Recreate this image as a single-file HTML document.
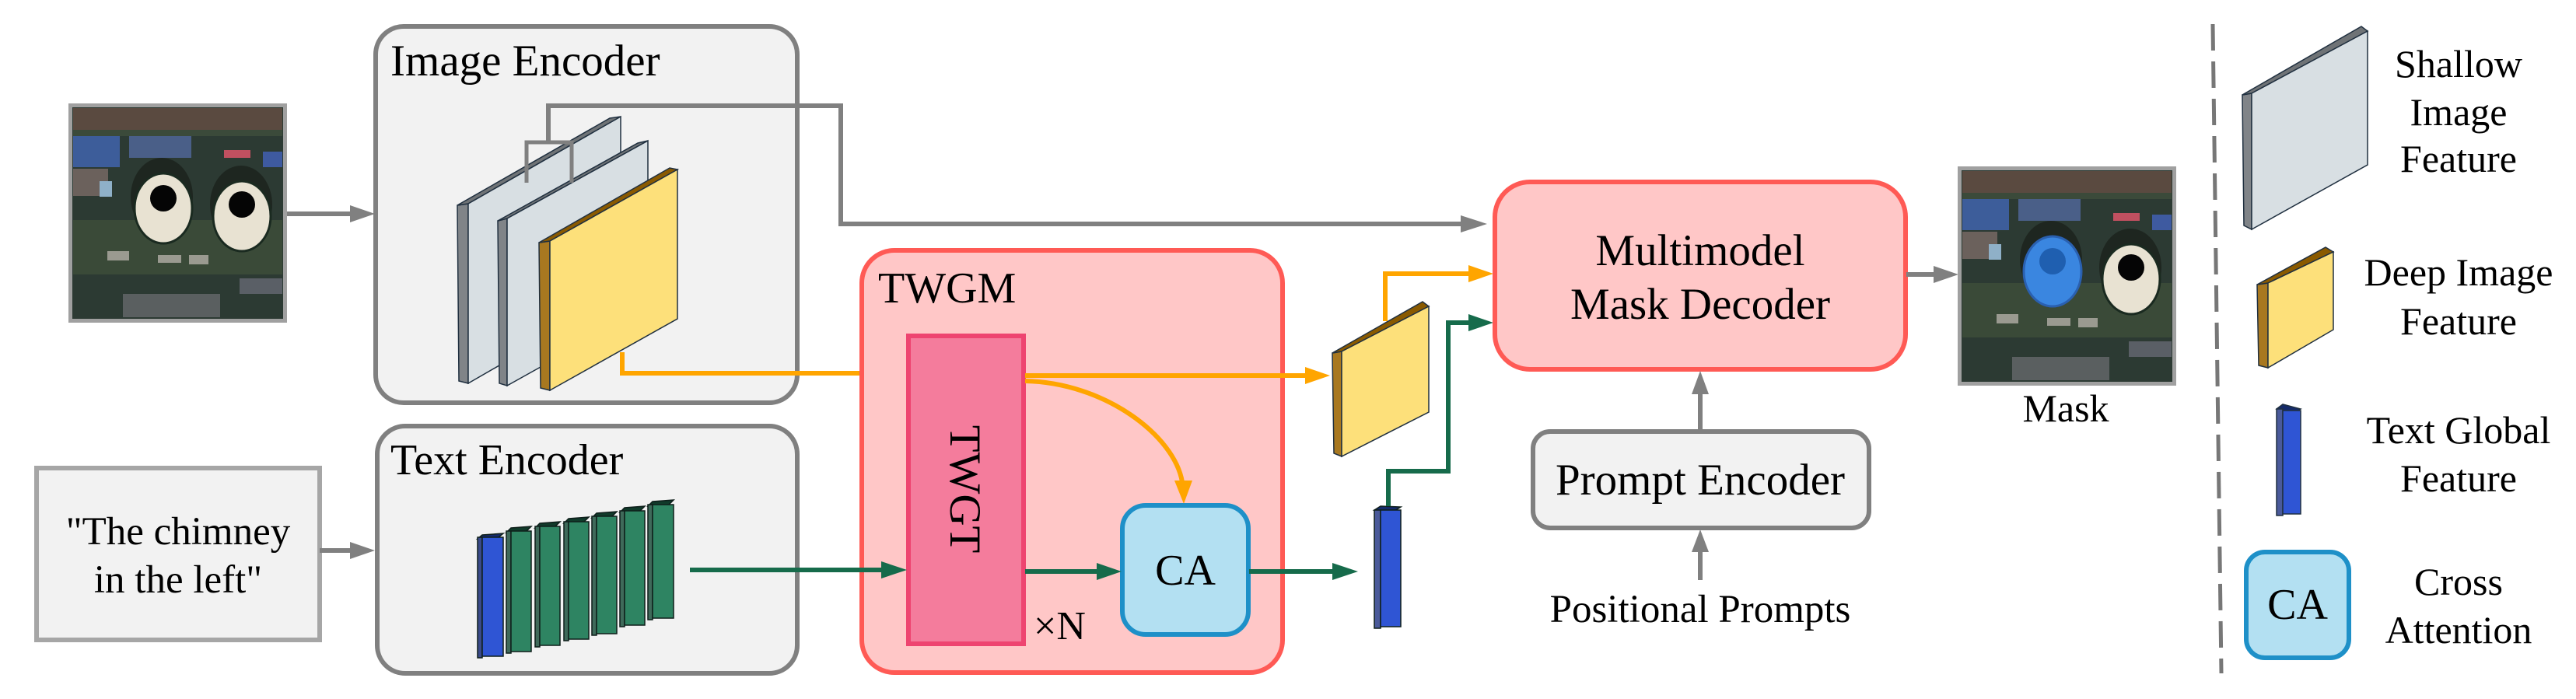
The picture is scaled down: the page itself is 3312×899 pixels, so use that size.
<!DOCTYPE html>
<html><head><meta charset="utf-8"><style>
html,body{margin:0;padding:0;background:#fff}
svg{display:block;font-family:"Liberation Serif","DejaVu Serif",serif}
svg text{font-family:"Liberation Serif","DejaVu Serif",serif;fill:#000}
</style></head><body>
<svg width="3312" height="899" viewBox="0 0 3312 899" xmlns="http://www.w3.org/2000/svg" font-family="Liberation Serif, DejaVu Serif, serif">
<defs>
<g id="sat">
  <rect x="0" y="0" width="281" height="282" fill="#2c3a33"/>
  <rect x="6" y="6" width="269" height="28" fill="#5a4a40"/>
  <rect x="6" y="34" width="269" height="8" fill="#3b4a3a"/>
  <rect x="6" y="42" width="60" height="40" fill="#3d5d9a"/>
  <rect x="78" y="42" width="80" height="28" fill="#4a5f88"/>
  <rect x="200" y="60" width="34" height="10" fill="#c05060"/>
  <rect x="250" y="62" width="25" height="20" fill="#3e5aa0"/>
  <rect x="6" y="84" width="45" height="35" fill="#6b615c"/>
  <rect x="40" y="100" width="16" height="20" fill="#8fb0c8"/>
  <ellipse cx="120" cy="120" rx="40" ry="50" fill="#1e2620"/>
  <ellipse cx="222" cy="130" rx="40" ry="50" fill="#1e2620"/>
  <rect x="6" y="150" width="269" height="70" fill="#3a4a38"/>
  <rect x="50" y="190" width="28" height="12" fill="#9a9a90"/>
  <rect x="115" y="195" width="30" height="10" fill="#9a9a90"/>
  <rect x="155" y="195" width="25" height="12" fill="#9a9a90"/>
  <rect x="70" y="245" width="125" height="30" fill="#5a5f60"/>
  <rect x="220" y="225" width="55" height="20" fill="#5a5f66"/>
</g>
</defs>

<!-- input image -->
<rect x="88" y="133" width="281" height="282" fill="#a0a0a0"/>
<g transform="translate(88,133)">
  <use href="#sat"/>
  <ellipse cx="122" cy="135" rx="37" ry="45" fill="#e8e2d2" stroke="#1a2a20" stroke-width="3"/>
  <ellipse cx="122" cy="122" rx="17" ry="17" fill="#050505"/>
  <ellipse cx="223" cy="145" rx="37" ry="45" fill="#e8e2d2" stroke="#1a2a20" stroke-width="3"/>
  <ellipse cx="223" cy="130" rx="17" ry="17" fill="#050505"/>
</g>
<rect x="90.5" y="135.5" width="276" height="277" fill="none" stroke="#a0a0a0" stroke-width="5"/>

<line x1="369" y1="275" x2="450" y2="275" stroke="#808080" stroke-width="6"/>
<polygon points="450,264 482,275 450,286" fill="#808080"/>

<!-- Image Encoder box -->
<rect x="483" y="34" width="542" height="484" rx="36" fill="#f2f2f2" stroke="#808080" stroke-width="6"/>
<text x="502" y="97" font-size="57" font-family="Liberation Serif, DejaVu Serif, serif">Image Encoder</text>

<g stroke="#203040" stroke-width="1.5">
  <polygon points="588,264 602,262 602,493 590,490" fill="#808488"/>
  <polygon points="588,264 784,152 798,150 602,262" fill="#6f7376"/>
  <polygon points="602,262 798,150 798,380 602,493" fill="#d8dfe3"/>
  <polygon points="640,284 652,281 652,496 642,493" fill="#808488"/>
  <polygon points="640,284 820,184 833,181 652,281" fill="#6f7376"/>
  <polygon points="652,281 833,181 833,395 652,496" fill="#d8dfe3"/>
  <polygon points="693,312 707,310 707,502 695,499" fill="#a87820"/>
  <polygon points="693,312 861,216 871,218 707,310" fill="#8a5a00"/>
  <polygon points="707,310 871,218 871,410 707,502" fill="#fde07a"/>
</g>
<polyline points="677,235 677,183 735,183 735,235" fill="none" stroke="#808080" stroke-width="5"/>
<polyline points="705,183 705,136 1081,136 1081,288 1880,288" fill="none" stroke="#808080" stroke-width="6"/>
<polygon points="1878,277 1912,288 1878,299" fill="#808080"/>

<polyline points="800,453 800,480 1135,480" fill="none" stroke="#ffa500" stroke-width="6"/>
<polygon points="1133,469 1165,480 1133,491" fill="#ffa500"/>

<!-- Text input box -->
<rect x="47" y="602" width="364" height="221" fill="#f2f2f2" stroke="#a6a6a6" stroke-width="6"/>
<text x="229" y="700" font-size="51" text-anchor="middle" font-family="Liberation Serif, DejaVu Serif, serif">"The chimney</text>
<text x="229" y="762" font-size="51" text-anchor="middle" font-family="Liberation Serif, DejaVu Serif, serif">in the left"</text>
<line x1="411" y1="708" x2="450" y2="708" stroke="#808080" stroke-width="6"/>
<polygon points="450,697 482,708 450,719" fill="#808080"/>

<!-- Text Encoder box -->
<rect x="485" y="548" width="540" height="318" rx="36" fill="#f2f2f2" stroke="#808080" stroke-width="6"/>
<text x="502" y="610" font-size="56" font-family="Liberation Serif, DejaVu Serif, serif">Text Encoder</text>

<g stroke="#0e1e1a" stroke-width="1.5">
  <polygon points="614,693 620,688 647,686 641,691" fill="#142a6a"/>
  <rect x="614" y="691" width="6" height="155" fill="#3a4a8a"/>
  <rect x="620" y="691" width="27" height="153" fill="#2f55d4"/>
</g>
<g stroke="#0e1e1a" stroke-width="1.5" fill="#2e8462">
  <polygon points="651,685 657,679 683,677 677,683" fill="#103a2a"/><rect x="651" y="683" width="6" height="157" fill="#3f6a5a"/><rect x="657" y="683" width="26" height="155"/>
  <polygon points="688,679 694,673 720,671 714,677" fill="#103a2a"/><rect x="688" y="677" width="6" height="155" fill="#3f6a5a"/><rect x="694" y="677" width="26" height="153"/>
  <polygon points="725,673 731,667 757,665 751,671" fill="#103a2a"/><rect x="725" y="671" width="6" height="153" fill="#3f6a5a"/><rect x="731" y="671" width="26" height="151"/>
  <polygon points="761,666 767,660 793,658 787,664" fill="#103a2a"/><rect x="761" y="664" width="6" height="153" fill="#3f6a5a"/><rect x="767" y="664" width="26" height="151"/>
  <polygon points="797,659 803,653 829,651 823,657" fill="#103a2a"/><rect x="797" y="657" width="6" height="149" fill="#3f6a5a"/><rect x="803" y="657" width="26" height="147"/>
  <polygon points="833,651 839,645 866,643 860,649" fill="#103a2a"/><rect x="833" y="649" width="6" height="148" fill="#3f6a5a"/><rect x="839" y="649" width="27" height="146"/>
</g>

<!-- TWGM box -->
<rect x="1108" y="322" width="541" height="543" rx="42" fill="#ffc7c7" stroke="#ff5a55" stroke-width="6"/>
<text x="1129" y="389" font-size="56" font-family="Liberation Serif, DejaVu Serif, serif">TWGM</text>
<rect x="1168" y="432" width="148" height="396" fill="#f47c9c" stroke="#ee4470" stroke-width="6"/>
<text x="0" y="0" font-size="57" text-anchor="middle" transform="translate(1222,629) rotate(90)" font-family="Liberation Serif, DejaVu Serif, serif">TWGT</text>
<text x="1329" y="822" font-size="52" font-family="Liberation Serif, DejaVu Serif, serif">×N</text>

<line x1="887" y1="733" x2="1135" y2="733" stroke="#166b4b" stroke-width="6"/>
<polygon points="1133,722 1166,733 1133,744" fill="#166b4b"/>

<line x1="1318" y1="483" x2="1680" y2="483" stroke="#ffa500" stroke-width="6"/>
<polygon points="1678,472 1710,483 1678,494" fill="#ffa500"/>
<path d="M1318,490 C1420,492 1510,560 1520,620" fill="none" stroke="#ffa500" stroke-width="6"/>
<polygon points="1510,618 1522,648 1533,618" fill="#ffa500"/>

<!-- CA -->
<rect x="1443" y="650" width="162" height="166" rx="30" fill="#b3e0f2" stroke="#1e90c8" stroke-width="6"/>
<text x="1524" y="752" font-size="56" text-anchor="middle" font-family="Liberation Serif, DejaVu Serif, serif">CA</text>
<line x1="1318" y1="735" x2="1412" y2="735" stroke="#166b4b" stroke-width="6"/>
<polygon points="1410,724 1442,735 1410,746" fill="#166b4b"/>
<line x1="1606" y1="735" x2="1715" y2="735" stroke="#166b4b" stroke-width="6"/>
<polygon points="1713,724 1746,735 1713,746" fill="#166b4b"/>

<g stroke="#203040" stroke-width="1.5">
  <polygon points="1713,454 1725,452 1725,587 1715,583" fill="#a87820"/>
  <polygon points="1713,454 1829,388 1837,394 1725,452" fill="#8a5a00"/>
  <polygon points="1725,452 1837,394 1837,530 1725,587" fill="#fde07a"/>
</g>
<polyline points="1781,413 1781,352 1890,352" fill="none" stroke="#ffa500" stroke-width="6"/>
<polygon points="1888,341 1920,352 1888,363" fill="#ffa500"/>

<g stroke="#0e1e1a" stroke-width="1.5">
  <polygon points="1767,656 1775,651 1801,652 1793,657" fill="#142a6a"/>
  <rect x="1767" y="656" width="8" height="152" fill="#4a5a9a"/>
  <rect x="1775" y="656" width="26" height="150" fill="#2f55d4"/>
</g>
<polyline points="1785,651 1785,606 1862,606 1862,415 1890,415" fill="none" stroke="#166b4b" stroke-width="6"/>
<polygon points="1888,404 1920,415 1888,426" fill="#166b4b"/>

<!-- Mask decoder -->
<rect x="1922" y="234" width="528" height="241" rx="45" fill="#ffc7c7" stroke="#ff5a55" stroke-width="6"/>
<text x="2186" y="341" font-size="57" text-anchor="middle" font-family="Liberation Serif, DejaVu Serif, serif">Multimodel</text>
<text x="2186" y="410" font-size="57" text-anchor="middle" font-family="Liberation Serif, DejaVu Serif, serif">Mask Decoder</text>
<line x1="2451" y1="353" x2="2488" y2="353" stroke="#808080" stroke-width="6"/>
<polygon points="2486,342 2518,353 2486,364" fill="#808080"/>

<rect x="2517" y="214" width="281" height="282" fill="#a0a0a0"/>
<g transform="translate(2517,214)">
  <use href="#sat"/>
  <ellipse cx="122" cy="135" rx="37" ry="45" fill="#3a86e0" stroke="#2a60b0" stroke-width="3"/>
  <ellipse cx="122" cy="122" rx="17" ry="17" fill="#1f5fb0"/>
  <ellipse cx="223" cy="145" rx="37" ry="45" fill="#e8e2d2" stroke="#1a2a20" stroke-width="3"/>
  <ellipse cx="223" cy="130" rx="17" ry="17" fill="#050505"/>
</g>
<rect x="2519.5" y="216.5" width="276" height="277" fill="none" stroke="#a0a0a0" stroke-width="5"/>
<text x="2656" y="542" font-size="50" text-anchor="middle" font-family="Liberation Serif, DejaVu Serif, serif">Mask</text>

<line x1="2186" y1="553" x2="2186" y2="505" stroke="#808080" stroke-width="6"/>
<polygon points="2175,507 2186,477 2197,507" fill="#808080"/>
<rect x="1971" y="555" width="432" height="124" rx="22" fill="#f2f2f2" stroke="#808080" stroke-width="6"/>
<text x="2186" y="636" font-size="57" text-anchor="middle" font-family="Liberation Serif, DejaVu Serif, serif">Prompt Encoder</text>
<line x1="2186" y1="746" x2="2186" y2="708" stroke="#808080" stroke-width="6"/>
<polygon points="2175,710 2186,681 2197,710" fill="#808080"/>
<text x="2186" y="800" font-size="51" text-anchor="middle" font-family="Liberation Serif, DejaVu Serif, serif">Positional Prompts</text>

<line x1="2845" y1="31" x2="2856" y2="866" stroke="#777" stroke-width="5" stroke-dasharray="34,14"/>

<g stroke="#203040" stroke-width="1.5">
  <polygon points="2883,122 2895,120 2895,295 2885,290" fill="#808488"/>
  <polygon points="2883,122 3036,34 3044,40 2895,120" fill="#6f7376"/>
  <polygon points="2895,120 3044,40 3044,212 2895,295" fill="#d8dfe3"/>
  <polygon points="2902,366 2916,364 2916,473 2904,470" fill="#a87820"/>
  <polygon points="2902,366 2990,318 3000,324 2916,364" fill="#8a5a00"/>
  <polygon points="2916,364 3000,324 3000,424 2916,473" fill="#fde07a"/>
  <polygon points="2927,526 2935,520 2958,526 2950,531" fill="#142a6a"/>
  <rect x="2927" y="526" width="8" height="137" fill="#4a5a9a"/>
  <rect x="2935" y="528" width="23" height="133" fill="#2f55d4"/>
</g>
<g font-family="Liberation Serif, DejaVu Serif, serif" font-size="50" text-anchor="middle">
<text x="3161" y="99">Shallow</text>
<text x="3161" y="161">Image</text>
<text x="3161" y="221">Feature</text>
<text x="3161" y="367">Deep Image</text>
<text x="3161" y="430">Feature</text>
<text x="3161" y="570">Text Global</text>
<text x="3161" y="632">Feature</text>
<text x="3161" y="765">Cross</text>
<text x="3161" y="827">Attention</text>
</g>
<rect x="2888" y="710" width="132" height="136" rx="24" fill="#b3e0f2" stroke="#1e90c8" stroke-width="6"/>
<text x="2954" y="796" font-size="56" text-anchor="middle" font-family="Liberation Serif, DejaVu Serif, serif">CA</text>
</svg>
</body></html>
